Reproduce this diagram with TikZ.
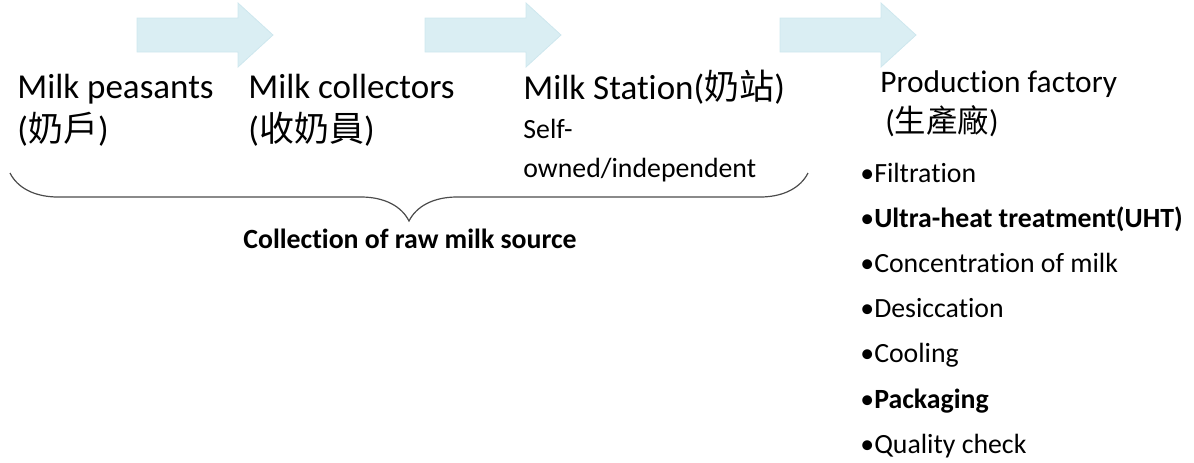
\documentclass[tikz,border=0pt]{standalone}
\usepackage{fontspec}
\setmainfont{Carlito}[Ligatures=NoCommon]
\newfontfamily\cjk{Noto Sans CJK TC}
\usetikzlibrary{positioning, decorations.pathreplacing}
\definecolor{arrowfill}{RGB}{218,238,243}
\definecolor{arrowline}{RGB}{206,231,238}
\newcommand{\itembullet}{{\mdseries •}}

\begin{document}
\begin{tikzpicture}[x=0.5pt, y=-0.5pt]
    \tikzstyle{flow} = [fill=arrowfill, draw=arrowline, line width=0.4pt]
    \tikzstyle{big} = [inner sep=0pt, anchor=base west, font=\fontsize{17.5}{21}\selectfont]
    \tikzstyle{mid} = [inner sep=0pt, anchor=base west, font=\fontsize{15.7}{19}\selectfont]
    \tikzstyle{small} = [inner sep=0pt, anchor=base west, font=\fontsize{13.9}{17}\selectfont]
    \tikzstyle{brace} = [draw=black!70, line width=0.6pt, decorate, decoration={brace, amplitude=24pt}]

    \useasboundingbox (0,0) rectangle (1194,462);

    % stage arrows
    \foreach \x in {137,425,780}
        \draw [flow] (\x,18) -- ++(101,0) -- ++(0,-15) -- ++(35,32) -- ++(-35,32) -- ++(0,-15) -- ++(-101,0) -- cycle;

    \node [big] (peasant) at (17,98) {Milk peasants};
    \node [big, below=21.5pt of peasant.base west, anchor=base west] (peasantzh) {({\cjk 奶戶})};

    \node [big] (collector) at (248,98) {Milk collectors};
    \node [big, below=21.5pt of collector.base west, anchor=base west] (collectorzh) {({\cjk 收奶員})};

    \node [big] (station) at (523,99) {Milk Station({\cjk 奶站})};
    \node [small, below=19.5pt of station.base west, anchor=base west] (self) {Self-};
    \node [small, below=19.5pt of self.base west, anchor=base west] (owned) {owned/independent};

    \coordinate (braceR) at (808,173);
    \coordinate (braceL) at (10,173);
    \draw [brace] (braceR) -- (braceL);
    \node [small, font=\fontsize{13.9}{17}\selectfont\bfseries, anchor=base] (collection) at (410,248) {Collection of raw milk source};

    \node [mid] (factory) at (880,92) {Production factory};
    \node [mid, below=20pt of factory.base west, anchor=base west, xshift=2.5pt] (factoryzh) {({\cjk 生產廠})};

    \node [small] (filter) at (860,182) {\itembullet Filtration};
    \node [small, below=22.6pt of filter.base west, anchor=base west, font=\fontsize{13.9}{17}\selectfont\bfseries] (uht) {\itembullet Ultra-heat treatment(UHT)};
    \node [small, below=22.6pt of uht.base west, anchor=base west] (concentrate) {\itembullet Concentration of milk};
    \node [small, below=22.6pt of concentrate.base west, anchor=base west] (desiccate) {\itembullet Desiccation};
    \node [small, below=22.6pt of desiccate.base west, anchor=base west] (cool) {\itembullet Cooling};
    \node [small, below=22.6pt of cool.base west, anchor=base west, font=\fontsize{13.9}{17}\selectfont\bfseries] (pack) {\itembullet Packaging};
    \node [small, below=22.6pt of pack.base west, anchor=base west] (check) {\itembullet Quality check};
\end{tikzpicture}
\end{document}
